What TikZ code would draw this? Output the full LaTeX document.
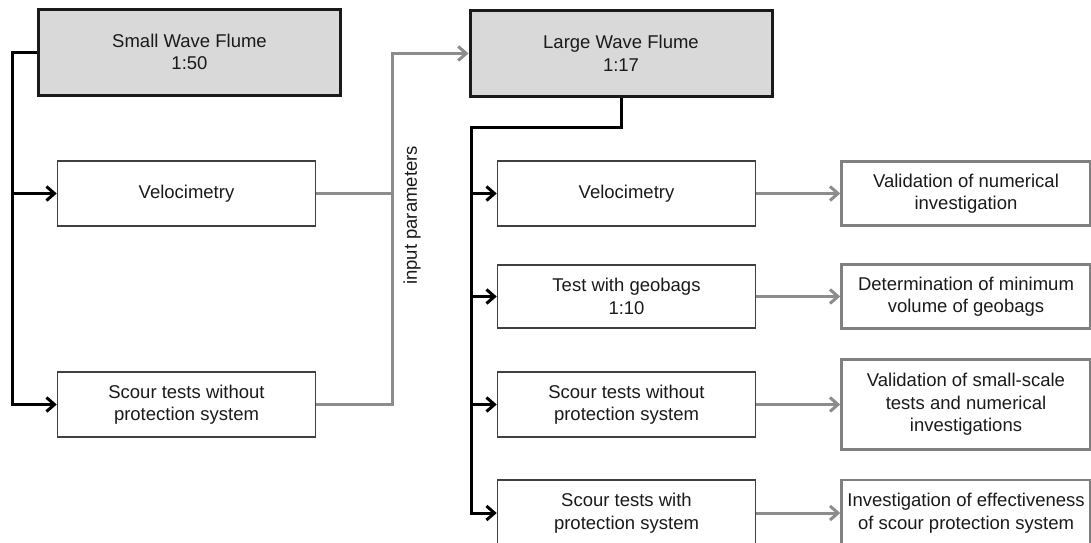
\documentclass[tikz,border=0pt]{standalone}
\usepackage{fontspec}
\setmainfont{Liberation Sans}
\usepackage{tikz}
\usetikzlibrary{arrows.meta,positioning}
\usepackage{xcolor}
\definecolor{flumefill}{RGB}{217,217,217}
\definecolor{ink}{RGB}{26,26,26}
\definecolor{boxline}{RGB}{64,64,64}
\definecolor{resline}{RGB}{128,128,128}
\definecolor{feedgray}{RGB}{140,140,140}

\begin{document}
\begin{tikzpicture}[x=1pt, y=-1pt,
  font=\fontsize{18.5}{22.5}\selectfont, text=ink,
  flume/.style={draw=ink, fill=flumefill, line width=3pt, align=center,
                minimum width=302pt, minimum height=86pt, inner sep=0pt},
  box/.style={draw=boxline, line width=1.5pt, align=center,
              minimum width=258pt, minimum height=65pt, inner sep=0pt},
  result/.style={draw=resline, line width=2.5pt, align=center,
                 minimum width=249pt, minimum height=64pt, inner sep=0pt},
  tree/.style={draw=black, line width=3pt},
  treearr/.style={tree, -{Straight Barb[length=8pt, width=14pt]}},
  feed/.style={draw=feedgray, line width=3pt},
  feedarr/.style={feed, -{Straight Barb[length=8pt, width=14pt]}}]
\useasboundingbox (0,0) rectangle (1091,542);
\clip (0,0) rectangle (1091,542);
\node[flume] (swf) at (189.5,52) {Small Wave Flume\\1:50};
\node[flume] (lwf) at (621,53.5) {Large Wave Flume\\1:17};
\node[box] (lv) at (186.5,193.5) {Velocimetry};
\node[box] (ls) at (186.5,404.5) {Scour tests without\\protection system};
\node[box] (mv) at (626.5,193.5) {Velocimetry};
\node[box, minimum height=63pt] (mg) at (626.5,296.5) {Test with geobags\\1:10};
\node[box] (ms) at (626.5,404.5) {Scour tests without\\protection system};
\node[box, minimum height=66pt] (mp) at (626.5,513) {Scour tests with\\protection system};
\node[result, right=84pt of mv] (rv) {Validation of numerical\\investigation};
\node[result, right=84pt of mg] (rg) {Determination of minimum\\volume of geobags};
\node[result, right=84pt of ms, minimum height=90pt] (rs)
  {Validation of small-scale\\tests and numerical\\investigations};
\node[result, right=84pt of mp, minimum height=66pt] (rp)
  {Investigation of effectiveness\\of scour protection system};
\coordinate (lspine) at (12,52);
\coordinate (mspine) at (471,127);
\coordinate (gspine) at (392,0);
\draw[treearr] (swf.west) -- (lspine) |- (ls.west);
\draw[treearr] (lspine |- lv.west) -- (lv.west);
\draw[treearr] (lwf.south) |- (mspine) |- (mp.west);
\draw[treearr] (mspine |- mv.west) -- (mv.west);
\draw[treearr] (mspine |- mg.west) -- (mg.west);
\draw[treearr] (mspine |- ms.west) -- (ms.west);
\draw[feedarr] (ls.east) -| (gspine |- lwf.west) -- (lwf.west);
\draw[feed] (lv.east) -- (gspine |- lv.east);
\node[rotate=90] (inp) at (412,215.5) {input parameters};
\draw[feedarr] (mv.east) -- (rv.west);
\draw[feedarr] (mg.east) -- (rg.west);
\draw[feedarr] (ms.east) -- (rs.west);
\draw[feedarr] (mp.east) -- (rp.west);
\end{tikzpicture}
\end{document}
